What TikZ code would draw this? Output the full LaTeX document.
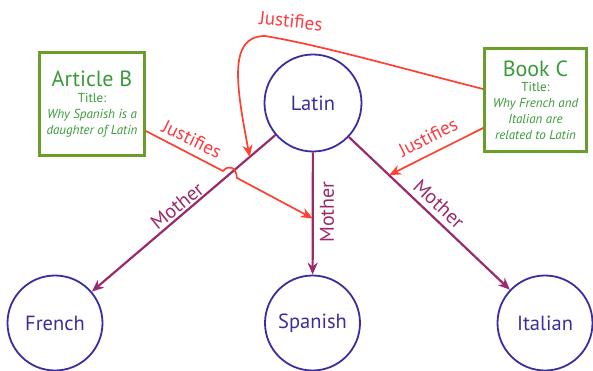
\documentclass[tikz,border=0pt]{standalone}
\usepackage{fontspec}
\setmainfont{PT Sans}
\usetikzlibrary{arrows.meta,calc}
\definecolor{circcol}{HTML}{3A2E9E}
\definecolor{boxgreen}{HTML}{6A9E28}
\definecolor{textgreen}{HTML}{3A9A3A}
\definecolor{mothercol}{HTML}{9A2A6C}
\definecolor{justcol}{HTML}{FF4030}
\definecolor{justtext}{HTML}{FF3A40}
\tikzset{
  lang/.style={circle, draw=circcol, line width=1.8pt, text=circcol, inner sep=0pt,
    font=\fontsize{20.5}{22}\selectfont},
  toplang/.style={lang, minimum size=97pt},
  botlang/.style={lang, minimum size=95pt},
  srcbox/.style={draw=boxgreen, line width=2.8pt, align=center, text=textgreen,
    inner sep=0pt, font=\fontsize{13}{17}\selectfont},
  mother/.style={draw=mothercol, line width=2.2pt, -{Stealth[length=12pt,width=10pt]}},
  just/.style={draw=justcol, line width=1.7pt, -{Stealth[length=12pt,width=10pt]}},
  mlbl/.style={text=mothercol, font=\fontsize{20}{22}\selectfont, inner sep=1pt},
  jlbl/.style={text=justtext, font=\fontsize{19}{21}\selectfont, inner sep=1pt}
}
\begin{document}
\begin{tikzpicture}[x=1pt,y=-1pt]
\useasboundingbox (0,0) rectangle (593,371);
% language nodes
\node[toplang] (latin) at (313,103) {Latin};
\node[botlang] (french) at (55,323) {French};
\node[botlang] (spanish) at (312.5,323) {Spanish};
\node[botlang] (italian) at (545,323) {Italian};
% source boxes
\node[srcbox, minimum width=105pt, minimum height=103pt] (artB) at (92,104)
  {{\fontsize{22}{22}\selectfont Article B}\\[-1pt]Title:\\[-1pt]\itshape Why Spanish is a\\[-1pt]\itshape daughter of Latin};
\node[srcbox, minimum width=102pt, minimum height=103pt] (bookC) at (535.5,100)
  {{\fontsize{22}{22}\selectfont Book C}\\[-2pt]Title:\\[-1pt]\itshape Why French and\\[-1pt]\itshape Italian are\\[-1pt]\itshape related to Latin};
% mother edges
\draw[mother] (latin) -- (french) coordinate[pos=0.14] (m1);
\draw[mother] (latin) -- (spanish) coordinate[pos=0.54] (m2);
\draw[mother] (latin) -- (italian) coordinate[pos=0.25] (m3);
\node[mlbl, rotate=39] (ml1) at (177,206) {Mother};
\node[mlbl, rotate=90] (ml2) at (327,212) {Mother};
\node[mlbl, rotate=-43] (ml3) at (439,204) {Mother};
% justifies edges
\draw[just] ($(artB.east)+(0,27)$) -- (223,171) .. controls (228,165) and (236,166) .. (237,178) -- (m2);
\draw[just] ($(bookC.west)+(0,28)$) -- (m3);
\draw[just] ($(bookC.west)+(0,-11)$) .. controls (400,68) and (320,45) .. (265,36)
  .. controls (228,36) and (236,85) .. (m1);
\node[jlbl, rotate=-26] (jl1) at (192,139) {Justifies};
\node[jlbl, rotate=27] (jl2) at (428,137) {Justifies};
\node[jlbl, rotate=-6] (jl3) at (291,21) {Justifies};
\end{tikzpicture}
\end{document}
